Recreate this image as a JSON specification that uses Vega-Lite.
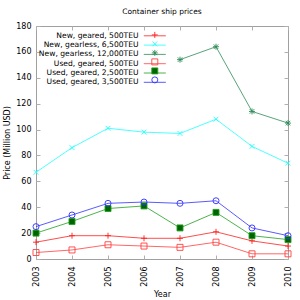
{
  "$schema": "https://vega.github.io/schema/vega-lite/v6.json",
  "width": 252,
  "height": 233,
  "autosize": "none",
  "padding": {"left": 36, "top": 26, "right": 12, "bottom": 41},
  "title": {"text": "Container ship prices", "fontSize": 7.5, "fontWeight": "normal", "font": "DejaVu Sans", "color": "#000000", "offset": 7},
  "config": {
    "font": "DejaVu Sans",
    "view": {"stroke": "#a0a0a0"},
    "axis": {
      "domain": false,
      "grid": false,
      "tickColor": "#b0b0b0",
      "tickSize": -4,
      "labelFontSize": 8,
      "labelColor": "#000000",
      "titleFontSize": 8,
      "titleFontWeight": "normal",
      "titleColor": "#000000"
    },
    "legend": {"padding": 0, "labelFontSize": 7.6, "labelColor": "#000000", "rowPadding": 0}
  },
  "data": {
    "values": [
      {"year": "2003", "series": "New, geared, 500TEU", "order": 1, "price": 13},
      {"year": "2004", "series": "New, geared, 500TEU", "order": 1, "price": 18},
      {"year": "2005", "series": "New, geared, 500TEU", "order": 1, "price": 18},
      {"year": "2006", "series": "New, geared, 500TEU", "order": 1, "price": 16},
      {"year": "2007", "series": "New, geared, 500TEU", "order": 1, "price": 16},
      {"year": "2008", "series": "New, geared, 500TEU", "order": 1, "price": 21},
      {"year": "2009", "series": "New, geared, 500TEU", "order": 1, "price": 14},
      {"year": "2010", "series": "New, geared, 500TEU", "order": 1, "price": 10},
      {"year": "2003", "series": "New, gearless, 6,500TEU", "order": 2, "price": 67},
      {"year": "2004", "series": "New, gearless, 6,500TEU", "order": 2, "price": 86},
      {"year": "2005", "series": "New, gearless, 6,500TEU", "order": 2, "price": 101},
      {"year": "2006", "series": "New, gearless, 6,500TEU", "order": 2, "price": 98},
      {"year": "2007", "series": "New, gearless, 6,500TEU", "order": 2, "price": 97},
      {"year": "2008", "series": "New, gearless, 6,500TEU", "order": 2, "price": 108},
      {"year": "2009", "series": "New, gearless, 6,500TEU", "order": 2, "price": 87},
      {"year": "2010", "series": "New, gearless, 6,500TEU", "order": 2, "price": 74},
      {"year": "2007", "series": "New, gearless, 12,000TEU", "order": 3, "price": 154},
      {"year": "2008", "series": "New, gearless, 12,000TEU", "order": 3, "price": 164},
      {"year": "2009", "series": "New, gearless, 12,000TEU", "order": 3, "price": 114},
      {"year": "2010", "series": "New, gearless, 12,000TEU", "order": 3, "price": 105},
      {"year": "2003", "series": "Used, geared, 500TEU", "order": 4, "price": 5},
      {"year": "2004", "series": "Used, geared, 500TEU", "order": 4, "price": 7},
      {"year": "2005", "series": "Used, geared, 500TEU", "order": 4, "price": 11},
      {"year": "2006", "series": "Used, geared, 500TEU", "order": 4, "price": 10},
      {"year": "2007", "series": "Used, geared, 500TEU", "order": 4, "price": 9},
      {"year": "2008", "series": "Used, geared, 500TEU", "order": 4, "price": 13},
      {"year": "2009", "series": "Used, geared, 500TEU", "order": 4, "price": 4},
      {"year": "2010", "series": "Used, geared, 500TEU", "order": 4, "price": 4},
      {"year": "2003", "series": "Used, geared, 2,500TEU", "order": 5, "price": 20},
      {"year": "2004", "series": "Used, geared, 2,500TEU", "order": 5, "price": 29},
      {"year": "2005", "series": "Used, geared, 2,500TEU", "order": 5, "price": 39},
      {"year": "2006", "series": "Used, geared, 2,500TEU", "order": 5, "price": 41},
      {"year": "2007", "series": "Used, geared, 2,500TEU", "order": 5, "price": 24},
      {"year": "2008", "series": "Used, geared, 2,500TEU", "order": 5, "price": 36},
      {"year": "2009", "series": "Used, geared, 2,500TEU", "order": 5, "price": 18},
      {"year": "2010", "series": "Used, geared, 2,500TEU", "order": 5, "price": 15},
      {"year": "2003", "series": "Used, geared, 3,500TEU", "order": 6, "price": 25},
      {"year": "2004", "series": "Used, geared, 3,500TEU", "order": 6, "price": 34},
      {"year": "2005", "series": "Used, geared, 3,500TEU", "order": 6, "price": 43},
      {"year": "2006", "series": "Used, geared, 3,500TEU", "order": 6, "price": 44},
      {"year": "2007", "series": "Used, geared, 3,500TEU", "order": 6, "price": 43},
      {"year": "2008", "series": "Used, geared, 3,500TEU", "order": 6, "price": 45},
      {"year": "2009", "series": "Used, geared, 3,500TEU", "order": 6, "price": 24},
      {"year": "2010", "series": "Used, geared, 3,500TEU", "order": 6, "price": 18}
    ]
  },
  "layer": [
    {
      "mark": {"type": "line", "strokeWidth": 0.8},
      "encoding": {
        "x": {"field": "year", "type": "ordinal", "scale": {"type": "point", "padding": 0},
              "axis": {"orient": "bottom", "labelAngle": -90, "labelPadding": 11, "title": "Year", "titlePadding": 4}},
        "y": {"field": "price", "type": "quantitative", "scale": {"domain": [0, 180]},
              "axis": {"orient": "left", "values": [0, 20, 40, 60, 80, 100, 120, 140, 160, 180], "labelPadding": 9, "title": "Price (Million USD)", "titlePadding": 4}},
        "color": {"field": "series", "type": "nominal",
                  "scale": {"domain": ["New, geared, 500TEU", "New, gearless, 6,500TEU", "New, gearless, 12,000TEU", "Used, geared, 500TEU", "Used, geared, 2,500TEU", "Used, geared, 3,500TEU"],
                            "range": ["#ff2020", "#20ffff", "#2e8b57", "#ff4040", "#20a020", "#3030ff"]},
                  "legend": {"title": null, "orient": "none", "legendX": 115, "legendY": 6, "rowPadding": 0.3, "symbolType": "M-3.67,0L3.67,0", "symbolSize": 36, "symbolStrokeWidth": 0.8, "labelAlign": "right", "labelOffset": -20}}
      }
    },
    {
      "mark": {"type": "point", "strokeWidth": 0.9, "size": 36, "opacity": 1},
      "encoding": {
        "x": {"field": "year", "type": "ordinal", "scale": {"type": "point", "padding": 0},
              "axis": {"orient": "top", "labels": false, "title": null}},
        "y": {"field": "price", "type": "quantitative", "scale": {"domain": [0, 180]},
              "axis": {"orient": "right", "labels": false, "title": null, "values": [0, 20, 40, 60, 80, 100, 120, 140, 160, 180]}},
        "shape": {"field": "series", "type": "nominal", "sort": {"field": "order", "op": "min"},
                  "scale": {"range": ["M-1,0L1,0M0,-1L0,1", "M-0.8,-0.8L0.8,0.8M-0.8,0.8L0.8,-0.8", "M-1,0L1,0M0,-1L0,1M-0.75,-0.75L0.75,0.75M-0.75,0.75L0.75,-0.75", "square", "square", "circle"]},
                  "legend": {"title": null, "orient": "none", "legendX": 115, "legendY": 4.5, "clipHeight": 8.8, "symbolSize": 36, "symbolStrokeWidth": 0.9, "labelOpacity": 0}},
        "stroke": {"field": "series", "type": "nominal", "sort": {"field": "order", "op": "min"},
                   "scale": {"range": ["#ff2020", "#20ffff", "#2e8b57", "#ff4040", "#20a020", "#3030ff"]},
                   "legend": {"title": null, "orient": "none", "legendX": 115, "legendY": 4.5, "clipHeight": 8.8, "symbolSize": 36, "symbolStrokeWidth": 0.9, "labelOpacity": 0}},
        "fill": {"field": "series", "type": "nominal", "sort": {"field": "order", "op": "min"},
                 "scale": {"range": ["transparent", "transparent", "transparent", "transparent", "#006400", "transparent"]},
                 "legend": {"title": null, "orient": "none", "legendX": 115, "legendY": 4.5, "clipHeight": 8.8, "symbolSize": 36, "symbolStrokeWidth": 0.9, "labelOpacity": 0}}
      }
    }
  ],
  "resolve": {"scale": {"x": "independent", "y": "independent"}}
}
